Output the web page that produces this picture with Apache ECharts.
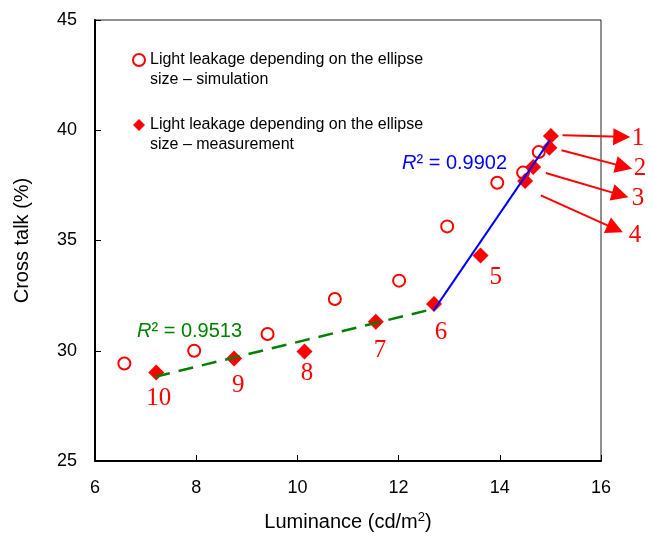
<!DOCTYPE html>
<html lang="en">
<head>
  <meta charset="UTF-8">
  <title>Cross talk vs luminance</title>
  <script src="https://cdn.jsdelivr.net/npm/echarts@6/dist/echarts.min.js"></script>
  <style>
    html, body { margin: 0; padding: 0; background: #fff; }
  </style>
</head>
<body>
<div id="chart" style="width:654px;height:537px;"></div>
<script>
  // simulation points (hollow circles)
  var simX = [6.58, 7.96, 9.41, 10.74, 12.01, 12.96, 13.95, 14.46, 14.77];
  var simY = [29.42, 30.0, 30.76, 32.35, 33.18, 35.64, 37.62, 38.08, 39.01];
  // measurement points (diamonds), numbered 1..10
  var measX = [15.01, 14.98, 14.66, 14.50, 13.62, 12.70, 11.55, 10.14, 8.75, 7.21];
  var measY = [39.74, 39.21, 38.33, 37.70, 34.32, 32.12, 31.32, 29.97, 29.65, 29.01];
  // point number labels
  var numText = ['1', '2', '3', '4', '5', '6', '7', '8', '9', '10'];
  var numX = [16.73, 16.77, 16.73, 16.67, 13.92, 12.84, 11.63, 10.19, 8.83, 7.26];
  var numY = [39.64, 38.27, 36.91, 35.23, 33.32, 30.82, 30.0, 28.95, 28.41, 27.82];
  // arrows for labels 1-4 : [x0, y0, x1, y1]
  var arrows = [
    [15.24, 39.77, 16.41, 39.70],
    [15.22, 39.09, 16.45, 38.35],
    [14.91, 38.06, 16.38, 37.07],
    [14.81, 37.05, 16.28, 35.53]
  ];
  // trend lines
  var fitLow = [[7.19, 28.82], [12.69, 31.9]];
  var fitHigh = [[12.69, 31.82], [14.99, 39.55]];

  var zip = function (xs, ys) { return xs.map(function (x, i) { return [x, ys[i]]; }); };

  var chart = echarts.init(document.getElementById('chart'));
  var font = 'Liberation Sans, Arial, sans-serif';
  var simName = 'Light leakage depending on the ellipse\nsize \u2013 simulation';
  var measName = 'Light leakage depending on the ellipse\nsize \u2013 measurement';

  var option = {
    animation: false,
    grid: { left: 95, right: 53, top: 20, bottom: 75, show: true, borderColor: '#222', borderWidth: 1 },
    legend: {
      orient: 'vertical',
      left: 127, top: 25,
      itemWidth: 12, itemHeight: 12, itemGap: 5,
      // blank first line so the icon lines up with the first text line
      formatter: function (name) { return ' \n' + name; },
      textStyle: { fontFamily: font, fontSize: 16, color: '#000', lineHeight: 20 },
      data: [
        { name: simName, icon: 'emptyCircle', itemStyle: { color: '#ff0000', borderColor: '#ff0000', borderWidth: 1.3 } },
        { name: measName, icon: 'diamond', itemStyle: { color: '#ff0000' } }
      ]
    },
    xAxis: {
      type: 'value', min: 6, max: 16, interval: 2,
      name: 'Luminance (cd/m{sup|2})', nameLocation: 'middle', nameGap: 50,
      nameTextStyle: { fontFamily: font, fontSize: 20, color: '#000',
        rich: { sup: { fontSize: 13, verticalAlign: 'bottom', padding: [0, 0, 9, 0], fontFamily: font, color: '#000' } } },
      axisLine: { lineStyle: { color: '#000', width: 2 } },
      axisTick: { inside: true, length: 6, lineStyle: { color: '#000' } },
      axisLabel: { fontFamily: font, fontSize: 18, color: '#000', margin: 18 },
      splitLine: { show: false }
    },
    yAxis: {
      type: 'value', min: 25, max: 45, interval: 5,
      name: 'Cross talk (%)', nameLocation: 'middle', nameGap: 63, nameRotate: 90,
      nameTextStyle: { fontFamily: font, fontSize: 20, color: '#000' },
      axisLine: { show: true, lineStyle: { color: '#000', width: 2 } },
      axisTick: { show: true, inside: true, length: 6, lineStyle: { color: '#000' } },
      axisLabel: { fontFamily: font, fontSize: 18, color: '#000', margin: 18 },
      splitLine: { show: false }
    },
    graphic: [
      { type: 'text', left: 402, top: 153,
        style: { text: '{i|R}{n|\u00b2 = 0.9902}', fill: '#0000ff',
          rich: { i: { fontStyle: 'italic', fontFamily: font, fontSize: 20, fill: '#0000ff' },
                  n: { fontFamily: font, fontSize: 20, fill: '#0000ff' } } } },
      { type: 'text', left: 137, top: 321,
        style: { text: '{i|R}{n|\u00b2 = 0.9513}', fill: '#008000',
          rich: { i: { fontStyle: 'italic', fontFamily: font, fontSize: 20, fill: '#008000' },
                  n: { fontFamily: font, fontSize: 20, fill: '#008000' } } } }
    ],
    series: [
      {
        name: simName,
        type: 'scatter', data: zip(simX, simY), symbol: 'emptyCircle', symbolSize: 12, z: 3,
        itemStyle: { color: '#ff0000', borderWidth: 1.3, opacity: 1 }
      },
      {
        name: measName,
        type: 'scatter', data: zip(measX, measY), symbol: 'diamond', symbolSize: 16, z: 4,
        itemStyle: { color: '#ff0000', opacity: 1 }
      },
      {
        type: 'line', data: fitLow, symbol: 'none', z: 6,
        lineStyle: { color: '#008000', width: 2.5, type: [15, 9] }
      },
      {
        type: 'line', data: fitHigh, symbol: 'none', z: 6,
        lineStyle: { color: '#0000ff', width: 2 }
      },
      {
        type: 'scatter', symbol: 'circle', symbolSize: 0.1, clip: false, silent: true, z: 7,
        itemStyle: { color: 'rgba(0,0,0,0)' },
        data: numX.map(function (x, i) { return { value: [x, numY[i]], label: { formatter: numText[i] } }; }),
        label: { show: true, position: 'inside', opacity: 1, fontFamily: 'Liberation Serif, Times New Roman, serif', fontSize: 25, color: '#ff0000' }
      },
      {
        type: 'lines', coordinateSystem: 'cartesian2d', clip: false, silent: true, z: 7,
        symbol: ['none', 'triangle'], symbolSize: 17,
        lineStyle: { color: '#ff0000', width: 2, opacity: 1 },
        data: arrows.map(function (a) { return { coords: [[a[0], a[1]], [a[2], a[3]]] }; })
      }
    ]
  };
  chart.setOption(option);
</script>
</body>
</html>
